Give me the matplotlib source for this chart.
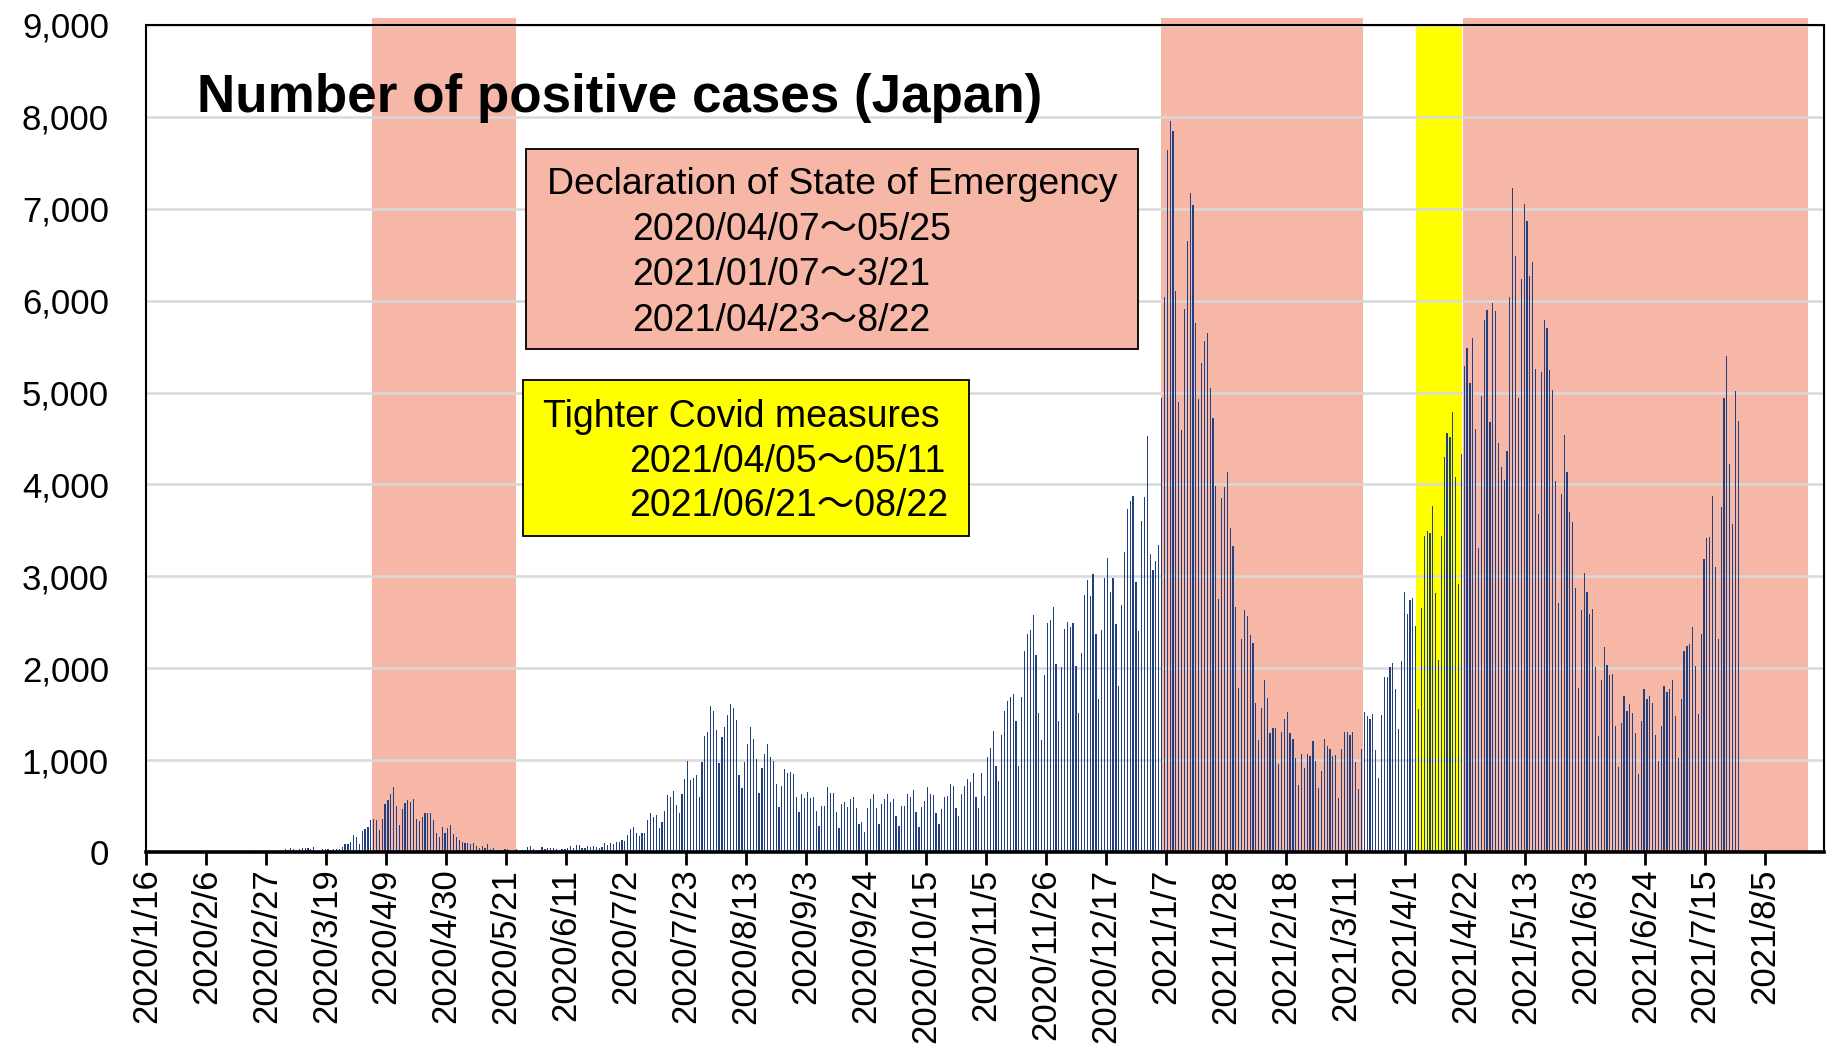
import pandas as pd
import numpy as np
import matplotlib
matplotlib.use('Agg')
import matplotlib.pyplot as plt
import matplotlib.dates as mdates
from matplotlib.patches import Rectangle
from matplotlib.ticker import FuncFormatter, MultipleLocator

# daily positive cases, Japan, from 2020/1/16
start_date = '2020-01-16'
cases_2020_01 = [1, 0, 0, 0, 0, 0, 0, 0, 1, 1, 1, 0, 2, 1, 3, 2]
cases_2020_02 = [3, 0, 0, 0, 0, 1, 0, 0, 0, 0, 0, 0, 3, 8, 8, 6, 7, 4, 8, 10,
                 11, 20, 12, 15, 10, 10, 10, 10, 9]
cases_2020_03 = [14, 14, 14, 29, 25, 44, 30, 22, 30, 44, 44, 44, 30, 55, 15, 22,
                 30, 33, 30, 26, 36, 36, 30, 58, 87, 87, 113, 189, 160, 87, 229]
cases_2020_04 = [254, 269, 349, 360, 353, 240, 360, 520, 567, 633, 709, 498, 295,
                 469, 538, 564, 545, 575, 356, 338, 378, 429, 422, 429, 349, 207,
                 164, 269, 207, 258]
cases_2020_05 = [291, 196, 167, 131, 109, 98, 95, 84, 102, 62, 40, 65, 40, 87, 33,
                 40, 22, 22, 25, 29, 29, 18, 22, 33, 15, 22, 18, 51, 62, 33, 18]
cases_2020_06 = [25, 51, 29, 40, 40, 40, 29, 22, 36, 36, 44, 62, 40, 73, 73, 44,
                 44, 62, 55, 62, 55, 47, 55, 95, 80, 98, 91, 109, 105, 135]
cases_2020_07 = [124, 189, 251, 273, 204, 175, 204, 204, 353, 429, 382, 404, 262,
                 327, 447, 618, 596, 661, 509, 422, 633, 797, 989, 781, 807, 836,
                 596, 981, 1265, 1305, 1585]
cases_2020_08 = [1538, 1331, 967, 1247, 1360, 1487, 1607, 1571, 1440, 836, 694,
                 982, 1175, 1356, 1229, 1011, 640, 916, 1069, 1178, 1033, 985, 742,
                 491, 716, 902, 858, 873, 844, 596, 433]
cases_2020_09 = [629, 589, 655, 585, 596, 444, 287, 505, 505, 709, 640, 640, 436,
                 258, 527, 545, 491, 575, 596, 480, 305, 324, 215, 484, 575, 636,
                 484, 302, 527, 575]
cases_2020_10 = [629, 542, 575, 396, 280, 498, 498, 629, 600, 676, 433, 269, 495,
                 553, 705, 636, 618, 425, 309, 470, 600, 610, 740, 722, 484, 393,
                 636, 720, 793, 764, 865]
cases_2020_11 = [600, 476, 855, 611, 1036, 1135, 1320, 938, 771, 1273, 1538, 1647,
                 1691, 1720, 1429, 938, 1691, 2185, 2375, 2411, 2582, 2149, 1509,
                 1218, 1931, 2495, 2527, 2665, 2047, 1429]
cases_2020_12 = [2018, 2422, 2505, 2444, 2495, 2029, 1516, 2167, 2800, 2964, 2789,
                 3029, 2375, 1665, 2418, 2985, 3204, 2833, 2978, 2484, 1804, 2684,
                 3265, 3738, 3822, 3876, 2935, 2400, 3603, 3867, 4527]
cases_2021_01 = [3244, 3064, 3164, 3339, 4945, 6043, 7644, 7956, 7850, 6101, 4902,
                 4591, 5911, 6651, 7168, 7037, 5758, 4929, 5325, 5557, 5652, 5050,
                 4723, 3983, 2758, 3851, 3967, 4131, 3529, 3333, 2662]
cases_2021_02 = [1786, 2314, 2631, 2567, 2356, 2272, 1622, 1215, 1564, 1875, 1680,
                 1294, 1352, 1352, 961, 1305, 1442, 1521, 1294, 1226, 1025, 734,
                 1067, 909, 1067, 1046, 1204, 988]
cases_2021_03 = [697, 877, 1231, 1157, 1125, 1046, 1057, 592, 1120, 1305, 1305,
                 1268, 1305, 977, 687, 1125, 1521, 1484, 1452, 1505, 1108, 802,
                 1487, 1902, 1902, 2016, 2060, 1774, 1339, 2075, 2831]
cases_2021_04 = [2594, 2742, 2762, 2460, 1561, 2658, 3444, 3488, 3473, 3760, 2821,
                 2090, 3444, 4298, 4560, 4521, 4783, 4086, 2915, 4333, 5287, 5489,
                 5104, 5593, 4600, 3305, 4960, 5791, 5899, 4679]
cases_2021_05 = [5973, 5889, 4456, 4190, 4051, 4368, 6042, 7228, 6482, 4941, 6240,
                 7050, 6872, 6265, 6418, 5252, 3676, 5222, 5790, 5706, 5247, 5030,
                 4037, 2708, 3893, 4536, 4135, 3705, 3587, 2870, 1784]
cases_2021_06 = [2633, 3034, 2826, 2589, 2643, 2011, 1265, 1877, 2233, 2036, 1927,
                 1932, 1374, 929, 1408, 1695, 1537, 1611, 1512, 1299, 850, 1428,
                 1769, 1665, 1700, 1621, 1275, 988, 1374, 1808]
cases_2021_07 = [1744, 1769, 1873, 1477, 1018, 1660, 2189, 2238, 2268, 2451, 2021,
                 1497, 2372, 3187, 3414, 3424, 3878, 3098, 2322, 3755, 4941, 5395,
                 4224, 3567, 5020, 4694]

# shaded periods as drawn in the chart
emergency_periods = [('2020-04-04', '2020-05-24 10:00'),
                     ('2021-01-05 08:00', '2021-03-17 02:00'),
                     ('2021-04-21 02:00', '2021-08-19 22:00')]
tighter_periods = [('2021-04-04 17:00', '2021-04-20 20:00')]

title = 'Number of positive cases (Japan)'
emergency_lines = ['Declaration of State of Emergency',
                   '2020/04/07～05/25', '2021/01/07～3/21', '2021/04/23～8/22']
tighter_lines = ['Tighter Covid measures', '2021/04/05～05/11', '2021/06/21～08/22']

cases = (cases_2020_01 + cases_2020_02 + cases_2020_03 + cases_2020_04 +
         cases_2020_05 + cases_2020_06 + cases_2020_07 + cases_2020_08 +
         cases_2020_09 + cases_2020_10 + cases_2020_11 + cases_2020_12 +
         cases_2021_01 + cases_2021_02 + cases_2021_03 + cases_2021_04 +
         cases_2021_05 + cases_2021_06 + cases_2021_07)

plt.rcParams['font.family'] = ['Liberation Sans', 'Noto Sans CJK JP']

SALMON = '#f6b7a6'
YELLOW = '#ffff00'
W, H = 1835, 1045


def fx(x):
    return x / W


def fy(y):
    return 1 - y / H


fig = plt.figure(figsize=(W / 100, H / 100), dpi=100)
ax = fig.add_axes([0.0798, 0.1847, 0.9142, 0.7914])

t0 = pd.Timestamp(start_date)
days = pd.date_range(start_date, periods=len(cases)) + pd.Timedelta(hours=14)
x = mdates.date2num(days.to_pydatetime())

for s, e in emergency_periods:
    ax.axvspan(mdates.date2num(pd.Timestamp(s)), mdates.date2num(pd.Timestamp(e)),
               ymin=0, ymax=1.008, color=SALMON, lw=0, zorder=0, clip_on=False)
for s, e in tighter_periods:
    ax.axvspan(mdates.date2num(pd.Timestamp(s)), mdates.date2num(pd.Timestamp(e)),
               color=YELLOW, lw=0, zorder=0)

ax.bar(x, cases, width=0.42, color='#223f7e', linewidth=0, zorder=2)

# axes
ax.set_ylim(0, 9000)
ax.yaxis.set_major_locator(MultipleLocator(1000))
ax.yaxis.set_major_formatter(FuncFormatter(lambda v, p: f'{int(v):,}'))
ax.set_axisbelow(True)
ax.yaxis.grid(True, color='#d9d9d9', lw=1.8)

ax.set_xlim(mdates.date2num(t0), mdates.date2num(t0 + pd.Timedelta(days=587.6)))
tick_dates = pd.date_range(start_date, '2021-08-05', freq='21D')
ax.set_xticks(mdates.date2num(tick_dates.to_pydatetime()))
ax.set_xticklabels([f'{d.year}/{d.month}/{d.day}' for d in tick_dates])

ax.tick_params(axis='y', length=0, pad=27, labelsize=25)
ax.tick_params(axis='x', length=9, width=2, pad=3, labelsize=25,
               labelrotation=90, direction='out')

for side in ['left', 'top', 'right']:
    ax.spines[side].set_linewidth(1.5)
ax.spines['bottom'].set_linewidth(2.6)

# title and boxes
fig.text(fx(197), fy(112), title, fontsize=38.2, fontweight='bold',
         ha='left', va='baseline')

fig.add_artist(Rectangle((fx(525.5), fy(348.8)), (1137.5 - 525.5) / W,
                         (348.8 - 148.6) / H, transform=fig.transFigure,
                         facecolor=SALMON, edgecolor='black', lw=1.3, zorder=5))
fig.text(fx(546.5), fy(194), emergency_lines[0], fontsize=26.9,
         ha='left', va='baseline', zorder=6)
for i, line in enumerate(emergency_lines[1:]):
    fig.text(fx(632), fy(240 + 45.3 * i), line, fontsize=27,
             ha='left', va='baseline', zorder=6)

fig.add_artist(Rectangle((fx(523), fy(536)), (969 - 523) / W, (536 - 380) / H,
                         transform=fig.transFigure, facecolor=YELLOW,
                         edgecolor='black', lw=1.3, zorder=5))
fig.text(fx(543), fy(427), tighter_lines[0], fontsize=27,
         ha='left', va='baseline', zorder=6)
for i, line in enumerate(tighter_lines[1:]):
    fig.text(fx(629.6), fy(471.6 + 44.4 * i), line, fontsize=27,
             ha='left', va='baseline', zorder=6)

fig.savefig('out.png', dpi=100)
